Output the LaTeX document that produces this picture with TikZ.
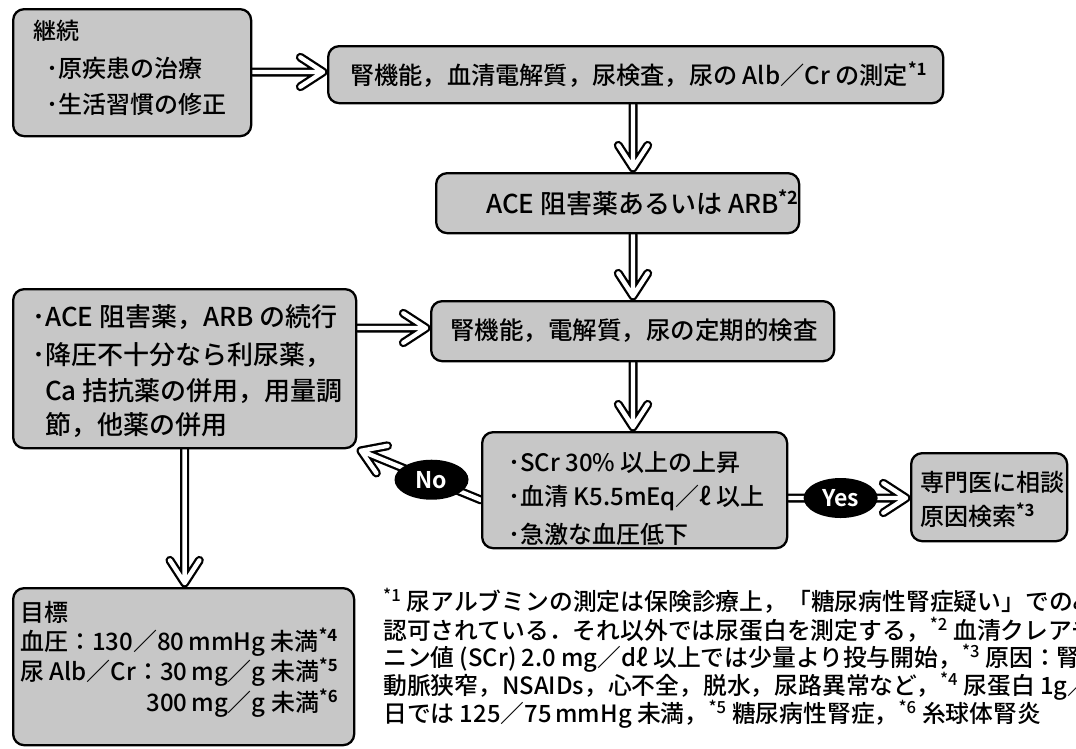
\documentclass[tikz,border=0pt]{standalone}
\usepackage{fontspec}
\setmainfont{Noto Sans CJK JP}[UprightFont=* Medium, BoldFont=* Bold]
\usetikzlibrary{calc,shapes.geometric}
\pgfdeclarelayer{bg}
\pgfsetlayers{bg,main}
\tikzset{
  box/.style={draw=black, line width=2.3pt, rounded corners=11pt, fill=black!22, anchor=north west, inner sep=0pt},
  txt/.style={anchor=west, inner sep=0pt},
  dbl/.style={draw=black, double=white, double distance=4.4pt, line width=2.3pt, line cap=round, line join=round},
  lab/.style={ellipse, fill=black, text=white, font=\fontsize{23}{23}\selectfont\bfseries, minimum width=74pt, minimum height=40pt, inner sep=0pt},
}
\newcommand\bsup[1]{\textsuperscript{\bfseries *#1}}
\newcommand\nsup[1]{\textsuperscript{*#1}}
\newcommand\bul{\llap{･}}
\newcommand\fs[1]{\fontsize{#1}{#1}\selectfont}
\newcommand\dblarrow[2]{%
  \coordinate (tmptip) at ($(#2)!4pt!(#1)$);
  \draw[dbl] (#1) -- (tmptip) ($(tmptip)!27pt!33:(#1)$) -- (tmptip) -- ($(tmptip)!27pt!-33:(#1)$);}
\begin{document}
\begin{tikzpicture}[x=1pt,y=-1pt]
\useasboundingbox (0,0) rectangle (1076,748);
% boxes
\node[box, minimum width=238pt, minimum height=127pt] (b1) at (12,8) {};
\node[box, minimum width=615pt, minimum height=57pt] (b2) at (327,45) {};
\node[box, minimum width=363pt, minimum height=60pt] (b3) at (435,172) {};
\node[box, minimum width=403pt, minimum height=60pt] (b4) at (430,300) {};
\node[box, minimum width=343pt, minimum height=159pt] (b5) at (12,288) {};
\node[box, minimum width=305pt, minimum height=116pt] (b6) at (481,431) {};
\node[box, minimum width=156pt, minimum height=88pt] (b7) at (910,452) {};
\node[box, minimum width=341pt, minimum height=157pt] (b8) at (12,587) {};
% helper coordinates
\coordinate (ax) at (633,0);
\coordinate (y72) at (0,72);
\coordinate (y328) at (0,328);
\coordinate (y500) at (0,500);
\coordinate (y498) at (0,498);
% arrows
\begin{pgfonlayer}{bg}
\dblarrow{b1.east |- y72}{b2.west |- y72}
\dblarrow{b2.south -| ax}{b3.north -| ax}
\dblarrow{b3.south -| ax}{b4.north -| ax}
\dblarrow{b5.east |- y328}{b4.west |- y328}
\dblarrow{b4.south -| ax}{b6.north -| ax}
\dblarrow{b6.west |- y500}{b5.south east}
\dblarrow{b6.east |- y498}{b7.west |- y498}
\dblarrow{b5.south}{b5.south |- b8.north}
\end{pgfonlayer}
\node[lab] (no) at ($(b6.west |- y500)!0.4!(b5.south east)$) {No};
\node[lab] (yes) at ($(b6.east |- y498)!0.43!(b7.west |- y498)$) {Yes};
% box texts
\node[txt, font=\fs{23}] (t1a) at (33,31) {継続};
\node[txt, font=\fs{24}] (t1b) at (58,68) {\bul 原疾患の治療};
\node[txt, font=\fs{24}] (t1c) at (58,104) {\bul 生活習慣の修正};
\node[txt, font=\fs{24.2}] (t2) at (350,75) {腎機能，血清電解質，尿検査，尿の Alb／Cr の測定\bsup{1}};
\node[txt, font=\fs{26}] (t3) at (486,203) {ACE 阻害薬あるいは ARB\bsup{2}};
\node[txt, font=\fs{24.5}] (t4) at (450,331) {腎機能，電解質，尿の定期的検査};
\node[txt, font=\fs{26}] (t5a) at (45,317) {\bul ACE 阻害薬，ARB の続行};
\node[txt, font=\fs{26}] (t5b) at (45,355) {\bul 降圧不十分なら利尿薬，};
\node[txt, font=\fs{26}] (t5c) at (45,391) {Ca 拮抗薬の併用，用量調};
\node[txt, font=\fs{26}] (t5d) at (45,425) {節，他薬の併用};
\node[txt, font=\fs{24}] (t6a) at (520,463) {\bul SCr 30\% 以上の上昇};
\node[txt, font=\fs{24}] (t6b) at (520,498) {\bul 血清 K5.5mEq／ℓ 以上};
\node[txt, font=\fs{24}] (t6c) at (520,534) {\bul 急激な血圧低下};
\node[txt, font=\fs{24}] (t7a) at (920,482) {専門医に相談};
\node[txt, font=\fs{24}] (t7b) at (920,515) {原因検索\bsup{3}};
\node[txt, font=\fs{24}] (t8a) at (20,612) {目標};
\node[txt, font=\fs{24}] (t8b) at (20,642) {血圧：130／80\,mmHg 未満\bsup{4}};
\node[txt, font=\fs{24}] (t8c) at (20,672) {尿 Alb／Cr：30\,mg／g 未満\bsup{5}};
\node[txt, font=\fs{24}, anchor=east] (t8d) at (t8c.east |- 0,703) {300\,mg／g 未満\bsup{6}};
% footnotes
\begin{scope}
\clip (0,0) rectangle (1076,748);
\node[txt, font=\fs{23.8}] (f1) at (383,601) {\nsup{1} 尿アルブミンの測定は保険診療上，「糖尿病性腎症疑い」でのみ};
\node[txt, font=\fs{23.8}] (f2) at (383,630) {認可されている．それ以外では尿蛋白を測定する，\nsup{2} 血清クレアチ};
\node[txt, font=\fs{23.8}] (f3) at (383,658) {ニン値 (SCr) 2.0 mg／dℓ 以上では少量より投与開始，\nsup{3} 原因：腎};
\node[txt, font=\fs{23.8}] (f4) at (383,686) {動脈狭窄，NSAIDs，心不全，脱水，尿路異常など，\nsup{4} 尿蛋白 1g／};
\node[txt, font=\fs{23.8}] (f5) at (383,714) {日では 125／75\,mmHg 未満，\nsup{5} 糖尿病性腎症，\nsup{6} 糸球体腎炎};
\end{scope}
\end{tikzpicture}
\end{document}
